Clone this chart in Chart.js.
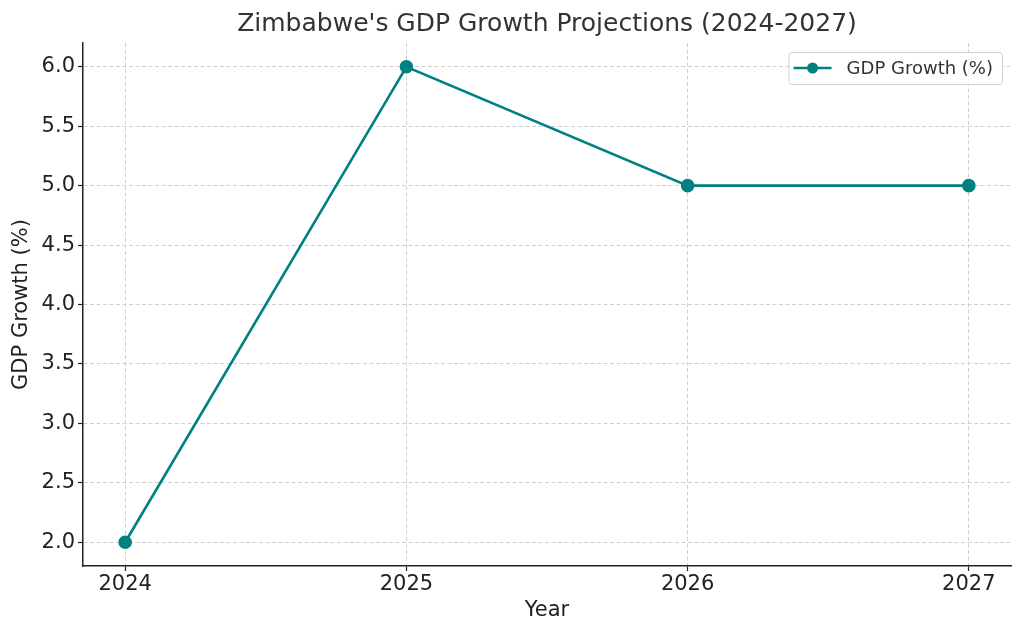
<!DOCTYPE html>
<html>
<head>
<meta charset="utf-8">
<script src="https://cdn.jsdelivr.net/npm/chart.js@4/dist/chart.umd.min.js"></script>
<style>
  html, body { margin: 0; padding: 0; background: #fff; }
  #wrap { width: 1024px; height: 635px; }
</style>
</head>
<body>
<div id="wrap"><canvas id="myChart" width="1024" height="635"></canvas></div>
<script>
// Chart data
const years = [2024, 2025, 2026, 2027];
const gdpGrowth = [2.0, 6.0, 5.0, 5.0];
const seriesLabel = 'GDP Growth (%)';
const lineColor = '#008080';

const fontFamily = '"DejaVu Sans", sans-serif';

// Draws a matplotlib-like legend box in the upper right corner
const boxLegend = {
    id: 'boxLegend',
    afterDraw(chart) {
        const ctx = chart.ctx;
        const area = chart.chartArea;
        const ds = chart.data.datasets[0];
        ctx.save();
        ctx.font = '18px ' + fontFamily;
        const textW = ctx.measureText(ds.label).width;
        const w = 58 + textW + 9;
        const h = 32;
        const x = area.right - 9 - w;
        const y = area.top + 9;
        ctx.fillStyle = 'rgba(255,255,255,0.85)';
        ctx.strokeStyle = '#d0d0d0';
        ctx.lineWidth = 1;
        ctx.beginPath();
        ctx.roundRect(x + 0.5, y + 0.5, w, h, 3);
        ctx.fill();
        ctx.stroke();
        const cy = y + h / 2;
        ctx.strokeStyle = ds.borderColor;
        ctx.lineWidth = 2.6;
        ctx.beginPath();
        ctx.moveTo(x + 5, cy);
        ctx.lineTo(x + 43, cy);
        ctx.stroke();
        ctx.fillStyle = ds.borderColor;
        ctx.beginPath();
        ctx.arc(x + 24, cy, 5.5, 0, Math.PI * 2);
        ctx.fill();
        ctx.fillStyle = '#333';
        ctx.textBaseline = 'middle';
        ctx.fillText(ds.label, x + 58, cy + 1);
        ctx.restore();
    }
};

const gridOpts = {
    color: '#d0d0d0',
    tickColor: '#222',
    tickLength: 5,
    tickBorderDash: [],
    tickWidth: 1.2
};

const chartConfig = {
    type: 'line',
    data: {
        datasets: [{
            label: seriesLabel,
            data: years.map((yr, i) => ({ x: yr, y: gdpGrowth[i] })),
            borderColor: lineColor,
            backgroundColor: lineColor,
            borderWidth: 2.6,
            pointRadius: 5.5,
            pointHoverRadius: 5.5,
            tension: 0
        }]
    },
    options: {
        responsive: false,
        animation: false,
        layout: { padding: { left: 0, right: 13, top: 0, bottom: 0 } },
        plugins: {
            legend: { display: false },
            tooltip: { enabled: false },
            title: {
                display: true,
                fullSize: false,
                text: "Zimbabwe's GDP Growth Projections (2024-2027)",
                color: '#333',
                font: { family: fontFamily, size: 25, weight: 'normal', lineHeight: 1.2 },
                padding: { top: 9, bottom: 4 }
            }
        },
        scales: {
            x: {
                type: 'linear',
                min: 2023.85,
                max: 2027.15,
                afterBuildTicks: (scale) => {
                    scale.ticks = years.map(v => ({ value: v }));
                },
                afterFit: (scale) => { scale.height = 69; },
                ticks: {
                    color: '#222',
                    font: { family: fontFamily, size: 21 },
                    padding: 1,
                    callback: (v) => String(v)
                },
                grid: gridOpts,
                border: { display: true, color: '#222', width: 1.5, dash: [4, 2.5] },
                title: {
                    display: true,
                    text: 'Year',
                    color: '#222',
                    font: { family: fontFamily, size: 21 },
                    padding: { top: 0, bottom: 12 }
                }
            },
            y: {
                min: 1.8,
                max: 6.2,
                afterBuildTicks: (scale) => {
                    const t = [];
                    for (let v = 2.0; v <= 6.0001; v += 0.5) t.push({ value: +v.toFixed(1) });
                    scale.ticks = t;
                },
                afterFit: (scale) => { scale.width = 83; },
                ticks: {
                    color: '#222',
                    font: { family: fontFamily, size: 21 },
                    padding: 3,
                    callback: (v) => Number(v).toFixed(1)
                },
                grid: gridOpts,
                border: { display: true, color: '#222', width: 1.5, dash: [4, 2.5] },
                title: {
                    display: true,
                    text: 'GDP Growth (%)',
                    color: '#222',
                    font: { family: fontFamily, size: 21 },
                    padding: { top: 9, bottom: 0 }
                }
            }
        }
    },
    plugins: [boxLegend]
};

const ctx = document.getElementById('myChart').getContext('2d');
const myChart = new Chart(ctx, chartConfig);
</script>
</body>
</html>
